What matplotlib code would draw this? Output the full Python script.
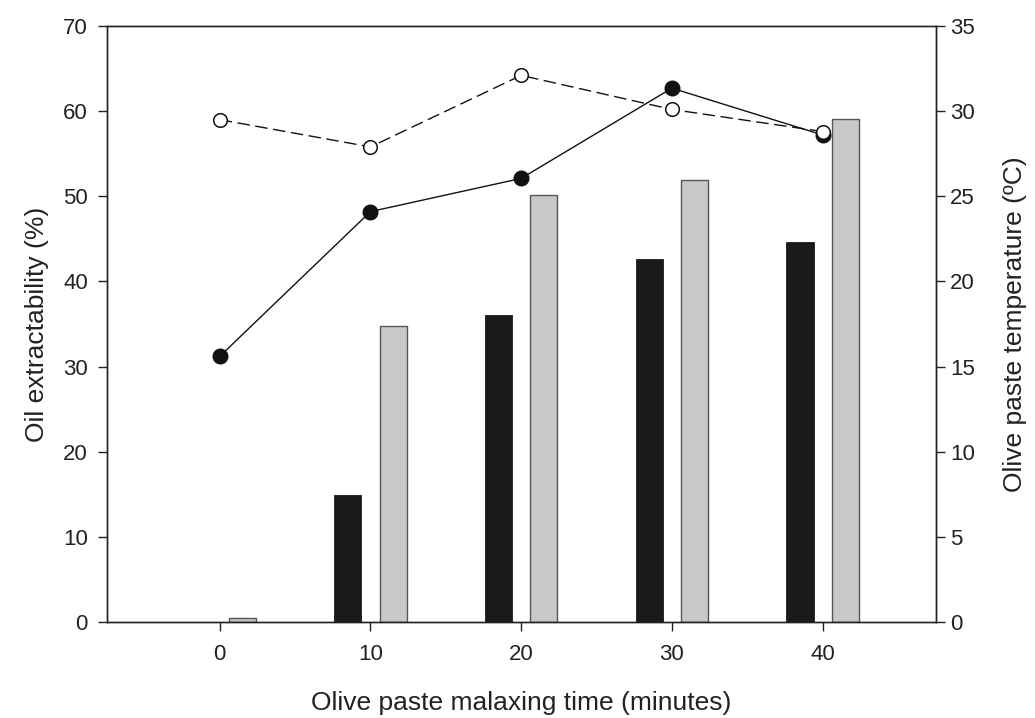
#!/usr/bin/env python3
"""
Oil extractability and paste temperature vs malaxing time
Bars + two line series on twin y axes, saved as out.png
"""

import matplotlib
matplotlib.use('Agg')
import matplotlib.pyplot as plt

plt.rcParams['font.family'] = ['Liberation Sans', 'DejaVu Sans']
plt.rcParams['lines.scale_dashes'] = False

# Data
times = [0, 10, 20, 30, 40]
bars_black = [0.0, 14.9, 36.1, 42.6, 44.6]
bars_gray = [0.5, 34.8, 50.1, 51.9, 59.1]
extract_filled = [31.2, 48.2, 52.1, 62.7, 57.2]
temp_open = [29.5, 27.9, 32.1, 30.1, 28.8]

left_ticks = [0, 10, 20, 30, 40, 50, 60, 70]
right_ticks = [0, 5, 10, 15, 20, 25, 30, 35]

fig = plt.figure(figsize=(10.35, 7.18), dpi=100)
ax = fig.add_axes([0.1031, 0.1337, 0.8009, 0.8301])
ax2 = ax.twinx()

bar_w = 1.8
off = 1.5
ax.bar([t - off for t in times], bars_black, width=bar_w,
       color='#1a1a1a', edgecolor='#1a1a1a', linewidth=0.6, zorder=2)
ax.bar([t + off for t in times], bars_gray, width=bar_w,
       color='#c8c8c8', edgecolor='#555555', linewidth=1.0, zorder=2)

ax.plot(times, extract_filled, color='#111111', linewidth=1.0,
        marker='o', markersize=10.5, markerfacecolor='#111111',
        markeredgecolor='#111111', zorder=3)
ax2.plot(times, temp_open, color='#111111', linewidth=1.0,
         linestyle=(0, (9, 4)),
         marker='o', markersize=9.8, markerfacecolor='white',
         markeredgecolor='#111111', markeredgewidth=1.1, zorder=3)

ax.set_xlim(-7.5, 47.5)
ax.set_ylim(0, 70)
ax2.set_ylim(0, 35)
ax.set_xticks(times)
ax.set_yticks(left_ticks)
ax2.set_yticks(right_ticks)

for a in (ax, ax2):
    for sp in a.spines.values():
        sp.set_linewidth(1.0)
        sp.set_color('#222222')
    a.tick_params(axis='both', direction='out', length=6.5, width=1.0,
                  color='#222222', labelsize=16, labelcolor='#222222')

ax.tick_params(axis='x', pad=9)
ax.tick_params(axis='y', pad=7)
ax2.tick_params(axis='y', pad=4)

ax.set_xlabel('Olive paste malaxing time (minutes)', fontsize=19,
              color='#222222', labelpad=19)
ax.set_ylabel('Oil extractability (%)', fontsize=19, color='#222222',
              labelpad=10)
ax2.set_ylabel('Olive paste temperature (\u00baC)', fontsize=19,
               color='#222222', labelpad=20)

plt.savefig('out.png', dpi=100)
plt.close()
